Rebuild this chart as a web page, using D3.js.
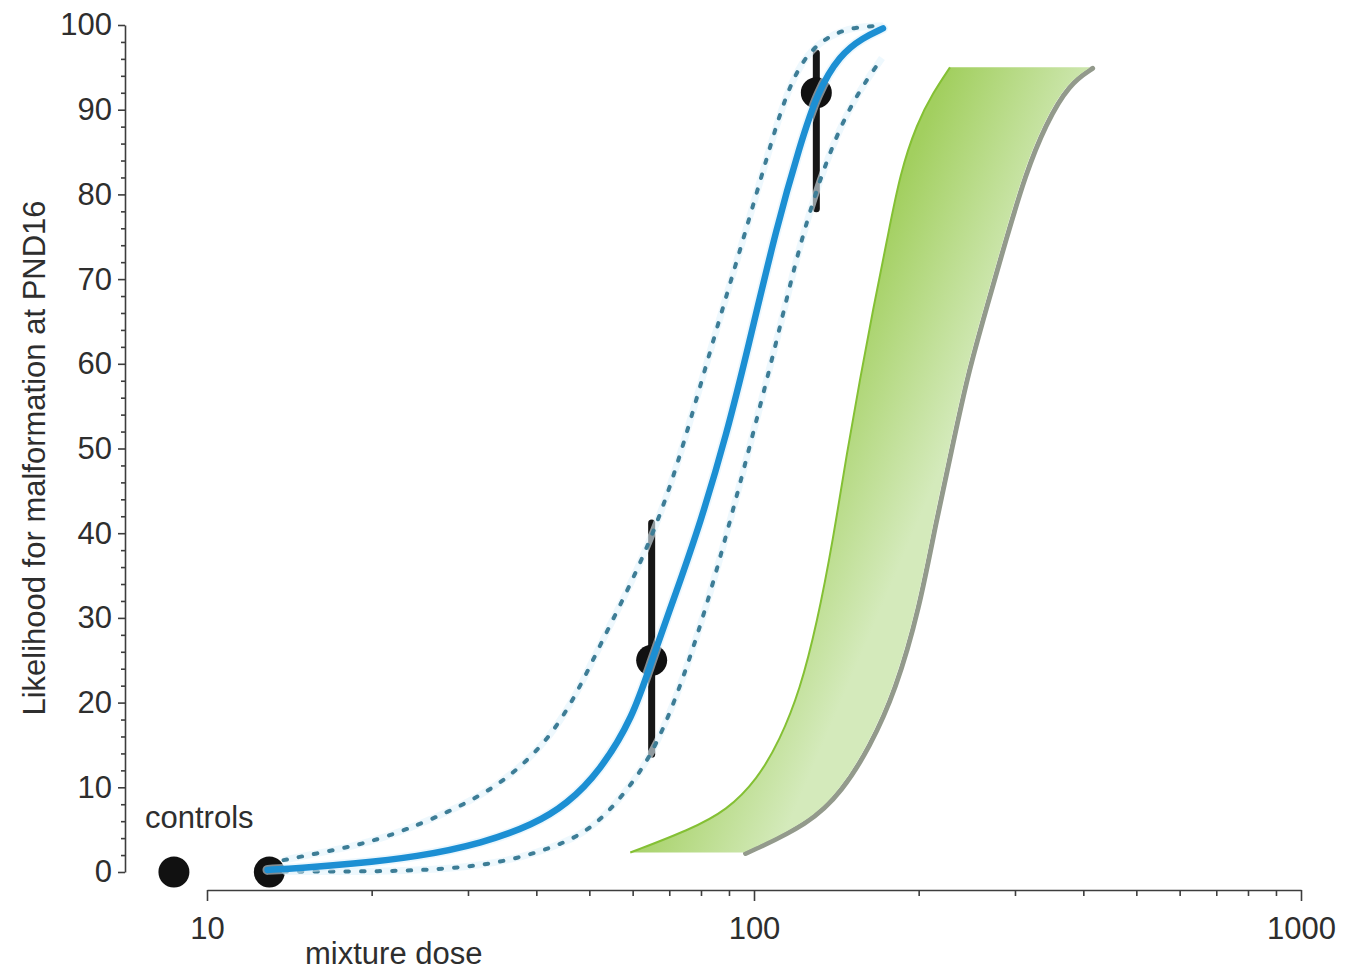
<!DOCTYPE html>
<html>
<head>
<meta charset="utf-8">
<script src="https://cdn.jsdelivr.net/npm/d3@7"></script>
<style>
  html, body { margin: 0; padding: 0; background: #fff; }
  svg { display: block; font-family: "Liberation Sans", Arial, Helvetica, sans-serif; }
  .axis path, .axis line { stroke: #3d3d3d; stroke-width: 1.6; }
  .axis text { fill: #2e2e2e; font-size: 31px; font-family: "Liberation Sans", Arial, sans-serif; }
</style>
</head>
<body>
<svg id="chart" width="1346" height="972"></svg>
<script>
// Axis ticks
const doseMajorTicks = [10, 100, 1000];
const doseMinorTicks = [20, 30, 40, 50, 60, 70, 80, 90, 200, 300, 400, 500, 600, 700, 800, 900];
const likelihoodMajorTicks = [0, 10, 20, 30, 40, 50, 60, 70, 80, 90, 100];
const likelihoodMinorTicks = [2, 4, 6, 8, 12, 14, 16, 18, 22, 24, 26, 28, 32, 34, 36, 38, 42, 44, 46, 48,
  52, 54, 56, 58, 62, 64, 66, 68, 72, 74, 76, 78, 82, 84, 86, 88, 92, 94, 96, 98];

// Observed groups (controls plotted left of the dose axis)
const groupDose = [8.7, 13, 65, 130];
const groupValue = [0, 0, 25, 92];
const groupLow = [null, null, 13.9, 78.3];
const groupHigh = [null, null, 41.2, 96.7];

// Fitted mixture dose-response curve
const fitDose = [12.9, 14.8, 18.3, 24.2, 32.0, 39.5, 45.5, 52.3, 60.1, 64.8, 72.3, 79.7, 89.3, 97.1, 110.2, 121.4, 130.4, 143.6, 158.2, 172.1];
const fitValue = [0.25, 0.47, 0.94, 1.77, 3.42, 5.6, 8.0, 11.9, 18.3, 24.7, 33.3, 41.1, 51.9, 61.4, 76.4, 85.8, 92.0, 96.5, 98.5, 99.6];

// Confidence belt of the fit
const upperDose = [13.8, 15.9, 18.3, 21.0, 25.6, 32.0, 36.9, 42.4, 47.5, 52.3, 60.1, 67.3, 74.2, 84.2, 95.5, 105.6, 114.9, 125.0, 137.7, 152.9, 172.1];
const upperValue = [1.4, 2.2, 3.0, 4.0, 6.1, 9.1, 12.0, 15.9, 21.1, 26.8, 34.5, 41.9, 50.2, 62.8, 74.6, 84.4, 92.3, 96.7, 98.8, 99.8, 99.9];
const lowerDose = [13.8, 21.0, 27.8, 35.4, 45.5, 52.3, 60.1, 66.5, 74.2, 83.1, 91.5, 97.1, 110.2, 121.4, 136.0, 151.7, 171.4];
const lowerValue = [0.05, 0.05, 0.35, 1.2, 3.4, 5.9, 10.5, 15.0, 22.7, 32.7, 42.7, 49.0, 62.8, 74.4, 84.4, 91.2, 96.1];

// Predicted band (green)
const bandLeftDose = [59.4, 76.4, 89.3, 101.3, 111.6, 121.4, 130.4, 139.5, 147.9, 156.2, 165.0, 175.1, 184.9, 198.6, 212.5, 228.2];
const bandLeftValue = [2.3, 5.0, 7.3, 10.9, 15.6, 21.5, 29.4, 39.2, 49.6, 58.1, 66.4, 74.6, 82.5, 88.4, 92.0, 95];
const bandRightDose = [95.5, 125.0, 143.6, 160.9, 179.6, 198.6, 212.5, 228.2, 243.0, 263.3, 285.3, 310.3, 337.6, 373.4, 411.6];
const bandRightValue = [2.3, 5.8, 9.7, 14.8, 21.5, 31.3, 41.2, 50.4, 58.7, 66.7, 74.6, 82.5, 88.4, 93.2, 95];

const svg = d3.select("#chart");
svg.append("rect").attr("width", 1346).attr("height", 972).attr("fill", "#fff");

const x = d3.scaleLog().domain([10, 1000]).range([207, 1301]);
const y = d3.scaleLinear().domain([0, 100]).range([872, 25]);

const zip = (ds, vs) => ds.map((d, i) => [d, vs[i]]);
const line = d3.line().x(d => x(d[0])).y(d => y(d[1])).curve(d3.curveBasis);

// Gradient for the band
const defs = svg.append("defs");
const grad = defs.append("linearGradient").attr("id", "bandFill")
  .attr("gradientUnits", "userSpaceOnUse")
  .attr("x1", 828).attr("y1", 351).attr("x2", 966).attr("y2", 410);
grad.append("stop").attr("offset", "0%").attr("stop-color", "#a2cf5f");
grad.append("stop").attr("offset", "100%").attr("stop-color", "#d4eabb");

// Band
const leftPts = zip(bandLeftDose, bandLeftValue);
const rightPts = zip(bandRightDose, bandRightValue);
const leftPath = line(leftPts);
const rightRevPath = line(rightPts.slice().reverse()).replace(/^M/, "L");

svg.append("path")
  .attr("d", line(rightPts))
  .attr("transform", "translate(2.5,1)")
  .attr("fill", "none")
  .attr("stroke", "#939a8c")
  .attr("stroke-width", 5)
  .attr("stroke-linecap", "round");

svg.append("path")
  .attr("d", leftPath + rightRevPath + "Z")
  .attr("fill", "url(#bandFill)");

svg.append("path")
  .attr("d", leftPath)
  .attr("fill", "none")
  .attr("stroke", "#84c034")
  .attr("stroke-width", 2);

// Axes
svg.append("g").attr("class", "axis").attr("transform", "translate(0,890)")
  .call(d3.axisBottom(x).tickValues(doseMajorTicks).tickFormat(d3.format("d"))
    .tickSize(11).tickSizeOuter(0).tickPadding(16));
svg.append("g").attr("class", "axis").attr("transform", "translate(0,890)")
  .call(d3.axisBottom(x).tickValues(doseMinorTicks).tickFormat("").tickSize(6).tickSizeOuter(0))
  .select(".domain").remove();

svg.append("g").attr("class", "axis").attr("transform", "translate(125,0)")
  .call(d3.axisLeft(y).tickValues(likelihoodMajorTicks).tickFormat(d3.format("d"))
    .tickSize(7).tickSizeOuter(0).tickPadding(6));
svg.append("g").attr("class", "axis").attr("transform", "translate(125,0)")
  .call(d3.axisLeft(y).tickValues(likelihoodMinorTicks).tickFormat("").tickSize(4).tickSizeOuter(0))
  .select(".domain").remove();

// Axis titles and annotation
svg.append("text")
  .attr("transform", "translate(45,458) rotate(-90)")
  .attr("text-anchor", "middle")
  .attr("fill", "#2e2e2e")
  .style("font-size", "31px")
  .text("Likelihood for malformation at PND16");

svg.append("text")
  .attr("x", 305).attr("y", 964)
  .attr("fill", "#2e2e2e")
  .style("font-size", "31px")
  .text("mixture dose");

svg.append("text")
  .attr("x", 145).attr("y", 828)
  .attr("fill", "#2e2e2e")
  .style("font-size", "31px")
  .text("controls");

// Error bars
const groups = groupDose.map((d, i) => ({ dose: d, value: groupValue[i], lo: groupLow[i], hi: groupHigh[i] }));
svg.append("g").selectAll("line")
  .data(groups.filter(g => g.lo !== null))
  .join("line")
  .attr("x1", d => x(d.dose)).attr("x2", d => x(d.dose))
  .attr("y1", d => y(d.lo)).attr("y2", d => y(d.hi))
  .attr("stroke", "#161616").attr("stroke-width", 7).attr("stroke-linecap", "round");

// Group means
svg.append("g").selectAll("circle")
  .data(groups)
  .join("circle")
  .attr("cx", d => x(d.dose)).attr("cy", d => y(d.value))
  .attr("r", 15.5)
  .attr("fill", "#111");

// Confidence belt (dashed)
const belts = [zip(upperDose, upperValue), zip(lowerDose, lowerValue)];
belts.forEach(pts => {
  svg.append("path").attr("d", line(pts)).attr("fill", "none")
    .attr("stroke", "#e2f4fc").attr("stroke-width", 7).attr("stroke-opacity", 0.6);
});
belts.forEach(pts => {
  svg.append("path").attr("d", line(pts)).attr("fill", "none")
    .attr("stroke", "#3d7d96").attr("stroke-width", 4)
    .attr("stroke-dasharray", "3.5 12").attr("stroke-linecap", "round");
});

// Fitted curve
const fitPts = zip(fitDose, fitValue);
svg.append("path").attr("d", line(fitPts)).attr("fill", "none")
  .attr("stroke", "#dcf1fb").attr("stroke-width", 10).attr("stroke-opacity", 0.55)
  .attr("stroke-linecap", "round");
svg.append("path").attr("d", line(fitPts)).attr("fill", "none")
  .attr("stroke", "#1c8fd3").attr("stroke-width", 6.5)
  .attr("stroke-linecap", "round");
</script>
</body>
</html>
